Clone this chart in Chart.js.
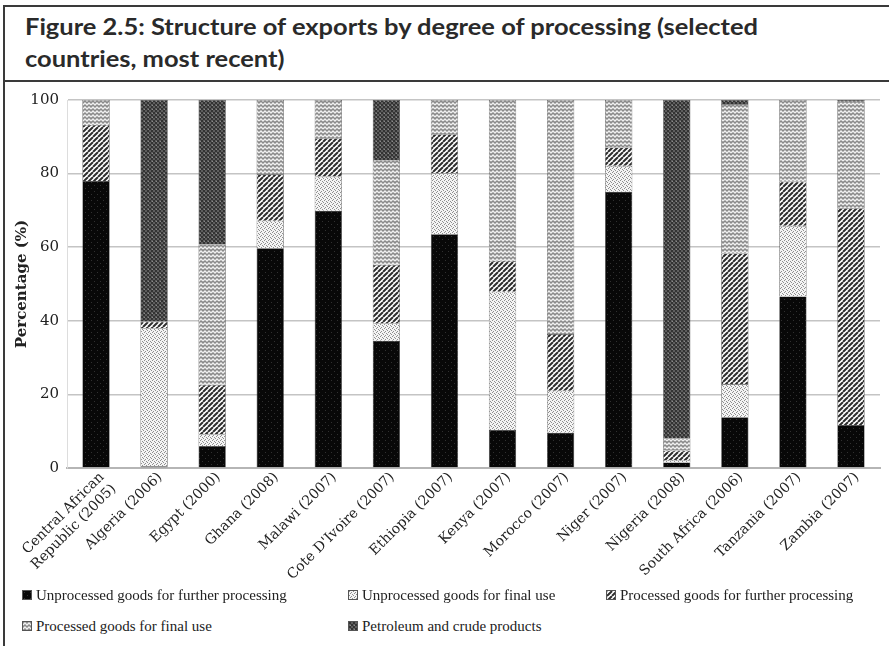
<!DOCTYPE html>
<html>
<head>
<meta charset="utf-8">
<script src="https://cdn.jsdelivr.net/npm/chart.js@4.4.1/dist/chart.umd.min.js"></script>
<style>
  html, body { margin:0; padding:0; background:#fff; }
  #page { position:relative; width:889px; height:646px; overflow:hidden; background:#fff; }
  .hline { position:absolute; left:3px; right:0; height:2px; background:#3a3a3a; }
  .vline { position:absolute; left:3px; width:2px; top:5px; bottom:0; background:#3a3a3a; }
  .title { position:absolute; left:25px; font-family:"Lato","Open Sans",sans-serif; font-weight:bold; font-size:22px; color:#2a2a2a; white-space:nowrap; transform-origin:left center; }
  #chartWrap { position:absolute; left:3px; top:82px; width:886px; height:520px; }
  .leg { position:absolute; font-family:"Liberation Serif","DejaVu Serif",serif; font-size:15px; color:#222; white-space:nowrap; }
  .leg .ic { display:inline-block; width:8px; height:8px; margin-right:4px; vertical-align:0px; border:1px solid #555; }
</style>
</head>
<body>
<div id="page">
  <div class="hline" style="top:5px"></div>
  <div class="hline" style="top:80px"></div>
  <div class="vline"></div>
  <div class="title" id="t1" style="top:13px">Figure 2.5: Structure of exports by degree of processing (selected</div>
  <div class="title" id="t2" style="top:45px">countries, most recent)</div>
  <div id="chartWrap"><canvas id="c" width="886" height="520"></canvas></div>
  <div id="legend"></div>
</div>
<script>
const categories = [["Central African","Republic (2005)"], "Algeria (2006)", "Egypt (2000)", "Ghana (2008)", "Malawi (2007)", "Cote D'Ivoire (2007)", "Ethiopia (2007)", "Kenya (2007)", "Morocco (2007)", "Niger (2007)", "Nigeria (2008)", "South Africa (2006)", "Tanzania (2007)", "Zambia (2007)"];
const seriesNames = ["Unprocessed goods for further processing", "Unprocessed goods for final use", "Processed goods for further processing", "Processed goods for final use", "Petroleum and crude products"];
const unprocFurther = [78, 0.5, 6, 59.7, 69.9, 34.6, 63.5, 10.3, 9.6, 75.1, 1.5, 13.8, 46.6, 11.7];
const unprocFinal   = [0, 37.5, 3.2, 7.5, 9.3, 4.7, 16.6, 37.6, 11.4, 7.0, 0.7, 9.0, 19.2, 0];
const procFurther   = [15.2, 1.8, 13.4, 12.6, 10.4, 15.9, 10.6, 8.4, 15.4, 5.0, 2.5, 35.5, 12.0, 58.9];
const procFinal     = [6.8, 0, 38.2, 20.2, 10.4, 28.5, 9.3, 43.7, 63.6, 12.9, 3.4, 40.6, 22.2, 28.9];
const petroleum     = [0, 60.2, 39.2, 0, 0, 16.3, 0, 0, 0, 0, 91.9, 1.1, 0, 0.5];
const yTicks = [0, 20, 40, 60, 80, 100];

// fit title width
(function(){
  const t1 = document.getElementById('t1'), t2 = document.getElementById('t2');
  const w = t1.getBoundingClientRect().width;
  const s = 733 / w;
  t1.style.transform = 'scaleX(' + s + ')';
  t2.style.transform = 'scaleX(' + s + ')';
})();

function tile(w, h, draw) {
  const c = document.createElement('canvas'); c.width = w; c.height = h;
  const g = c.getContext('2d'); draw(g); return c;
}
const tiles = [
  tile(6, 6, g => { g.fillStyle = '#080808'; g.fillRect(0,0,6,6); g.fillStyle = '#303030'; g.fillRect(1,1,1,1); g.fillRect(4,4,1,1); }),
  tile(4, 4, g => { g.fillStyle = '#f4f4f4'; g.fillRect(0,0,4,4); g.fillStyle = '#8f8f8f'; g.fillRect(0,0,1,1); g.fillRect(2,1,1,1); g.fillRect(1,2,1,1); g.fillRect(3,3,1,1); }),
  tile(5, 5, g => { g.fillStyle = '#ffffff'; g.fillRect(0,0,5,5); g.strokeStyle = '#2e2e2e'; g.lineWidth = 2.0;
      g.beginPath(); for (let k=-5;k<=10;k+=5){ g.moveTo(k,5); g.lineTo(k+5,0);} g.stroke(); }),
  tile(8, 8, g => { g.fillStyle = '#8a8a8a'; g.fillRect(0,0,8,8); g.strokeStyle = '#f0f0f0'; g.lineWidth = 1.3;
      g.beginPath(); g.moveTo(0,3); g.lineTo(2,1); g.lineTo(4,3); g.lineTo(6,1); g.lineTo(8,3);
      g.moveTo(0,7); g.lineTo(2,5); g.lineTo(4,7); g.lineTo(6,5); g.lineTo(8,7); g.stroke(); }),
  tile(4, 4, g => { g.fillStyle = '#5e5e5e'; g.fillRect(0,0,4,4); g.fillStyle = '#333333'; g.fillRect(0,0,2,2); g.fillRect(2,2,2,2); g.fillStyle = '#8a8a8a'; g.fillRect(1,3,1,1); })
];
const ctx = document.getElementById('c').getContext('2d');
const patterns = tiles.map(t => ctx.createPattern(t, 'repeat'));
const seriesData = [unprocFurther, unprocFinal, procFurther, procFinal, petroleum];

const datasets = seriesNames.map((n, i) => ({
  label: n,
  data: seriesData[i],
  backgroundColor: patterns[i],
  borderColor: '#3a3a3a',
  borderWidth: 0.6,
  categoryPercentage: 1,
  barPercentage: 0.47
}));

new Chart(ctx, {
  type: 'bar',
  data: { labels: categories, datasets },
  options: {
    responsive: false,
    animation: false,
    layout: { padding: { top: 18, right: 9, left: 0, bottom: 0 } },
    plugins: { legend: { display: false }, tooltip: { enabled: false } },
    scales: {
      x: {
        stacked: true,
        grid: { display: false },
        border: { display: true, color: '#b5b5b5', width: 2 },
        ticks: {
          minRotation: 45, maxRotation: 45, padding: -7, labelOffset: 6, color: '#222',
          font: { family: 'DejaVu Serif', size: 14 }
        },
        afterFit: s => { s.height = 134; }
      },
      y: {
        stacked: true, min: 0, max: 100,
        afterBuildTicks: s => { s.ticks = yTicks.map(v => ({ value: v })); },
        grid: { color: '#c4c4c4', lineWidth: 1.5, drawTicks: false },
        border: { display: true, color: '#dddddd' },
        ticks: { padding: 8, color: '#222', font: { family: 'DejaVu Serif', size: 15 } },
        title: { display: true, text: 'Percentage (%)', color: '#222', padding: { top: 10, bottom: 0 },
                 font: { family: 'DejaVu Serif', size: 15, weight: 'bold' } },
        afterFit: s => { s.width = 64; }
      }
    }
  }
});

// HTML legend
const legPos = [[22, 597], [348, 597], [606, 597], [22, 628], [348, 628]];
const legend = document.getElementById('legend');
seriesNames.forEach((n, i) => {
  const d = document.createElement('div');
  d.className = 'leg';
  d.style.left = legPos[i][0] + 'px';
  d.style.top = (legPos[i][1] - 10) + 'px';
  const ic = document.createElement('span');
  ic.className = 'ic';
  ic.style.backgroundImage = 'url(' + tiles[i].toDataURL() + ')';
  d.appendChild(ic);
  d.appendChild(document.createTextNode(n));
  legend.appendChild(d);
});
</script>
</body>
</html>
